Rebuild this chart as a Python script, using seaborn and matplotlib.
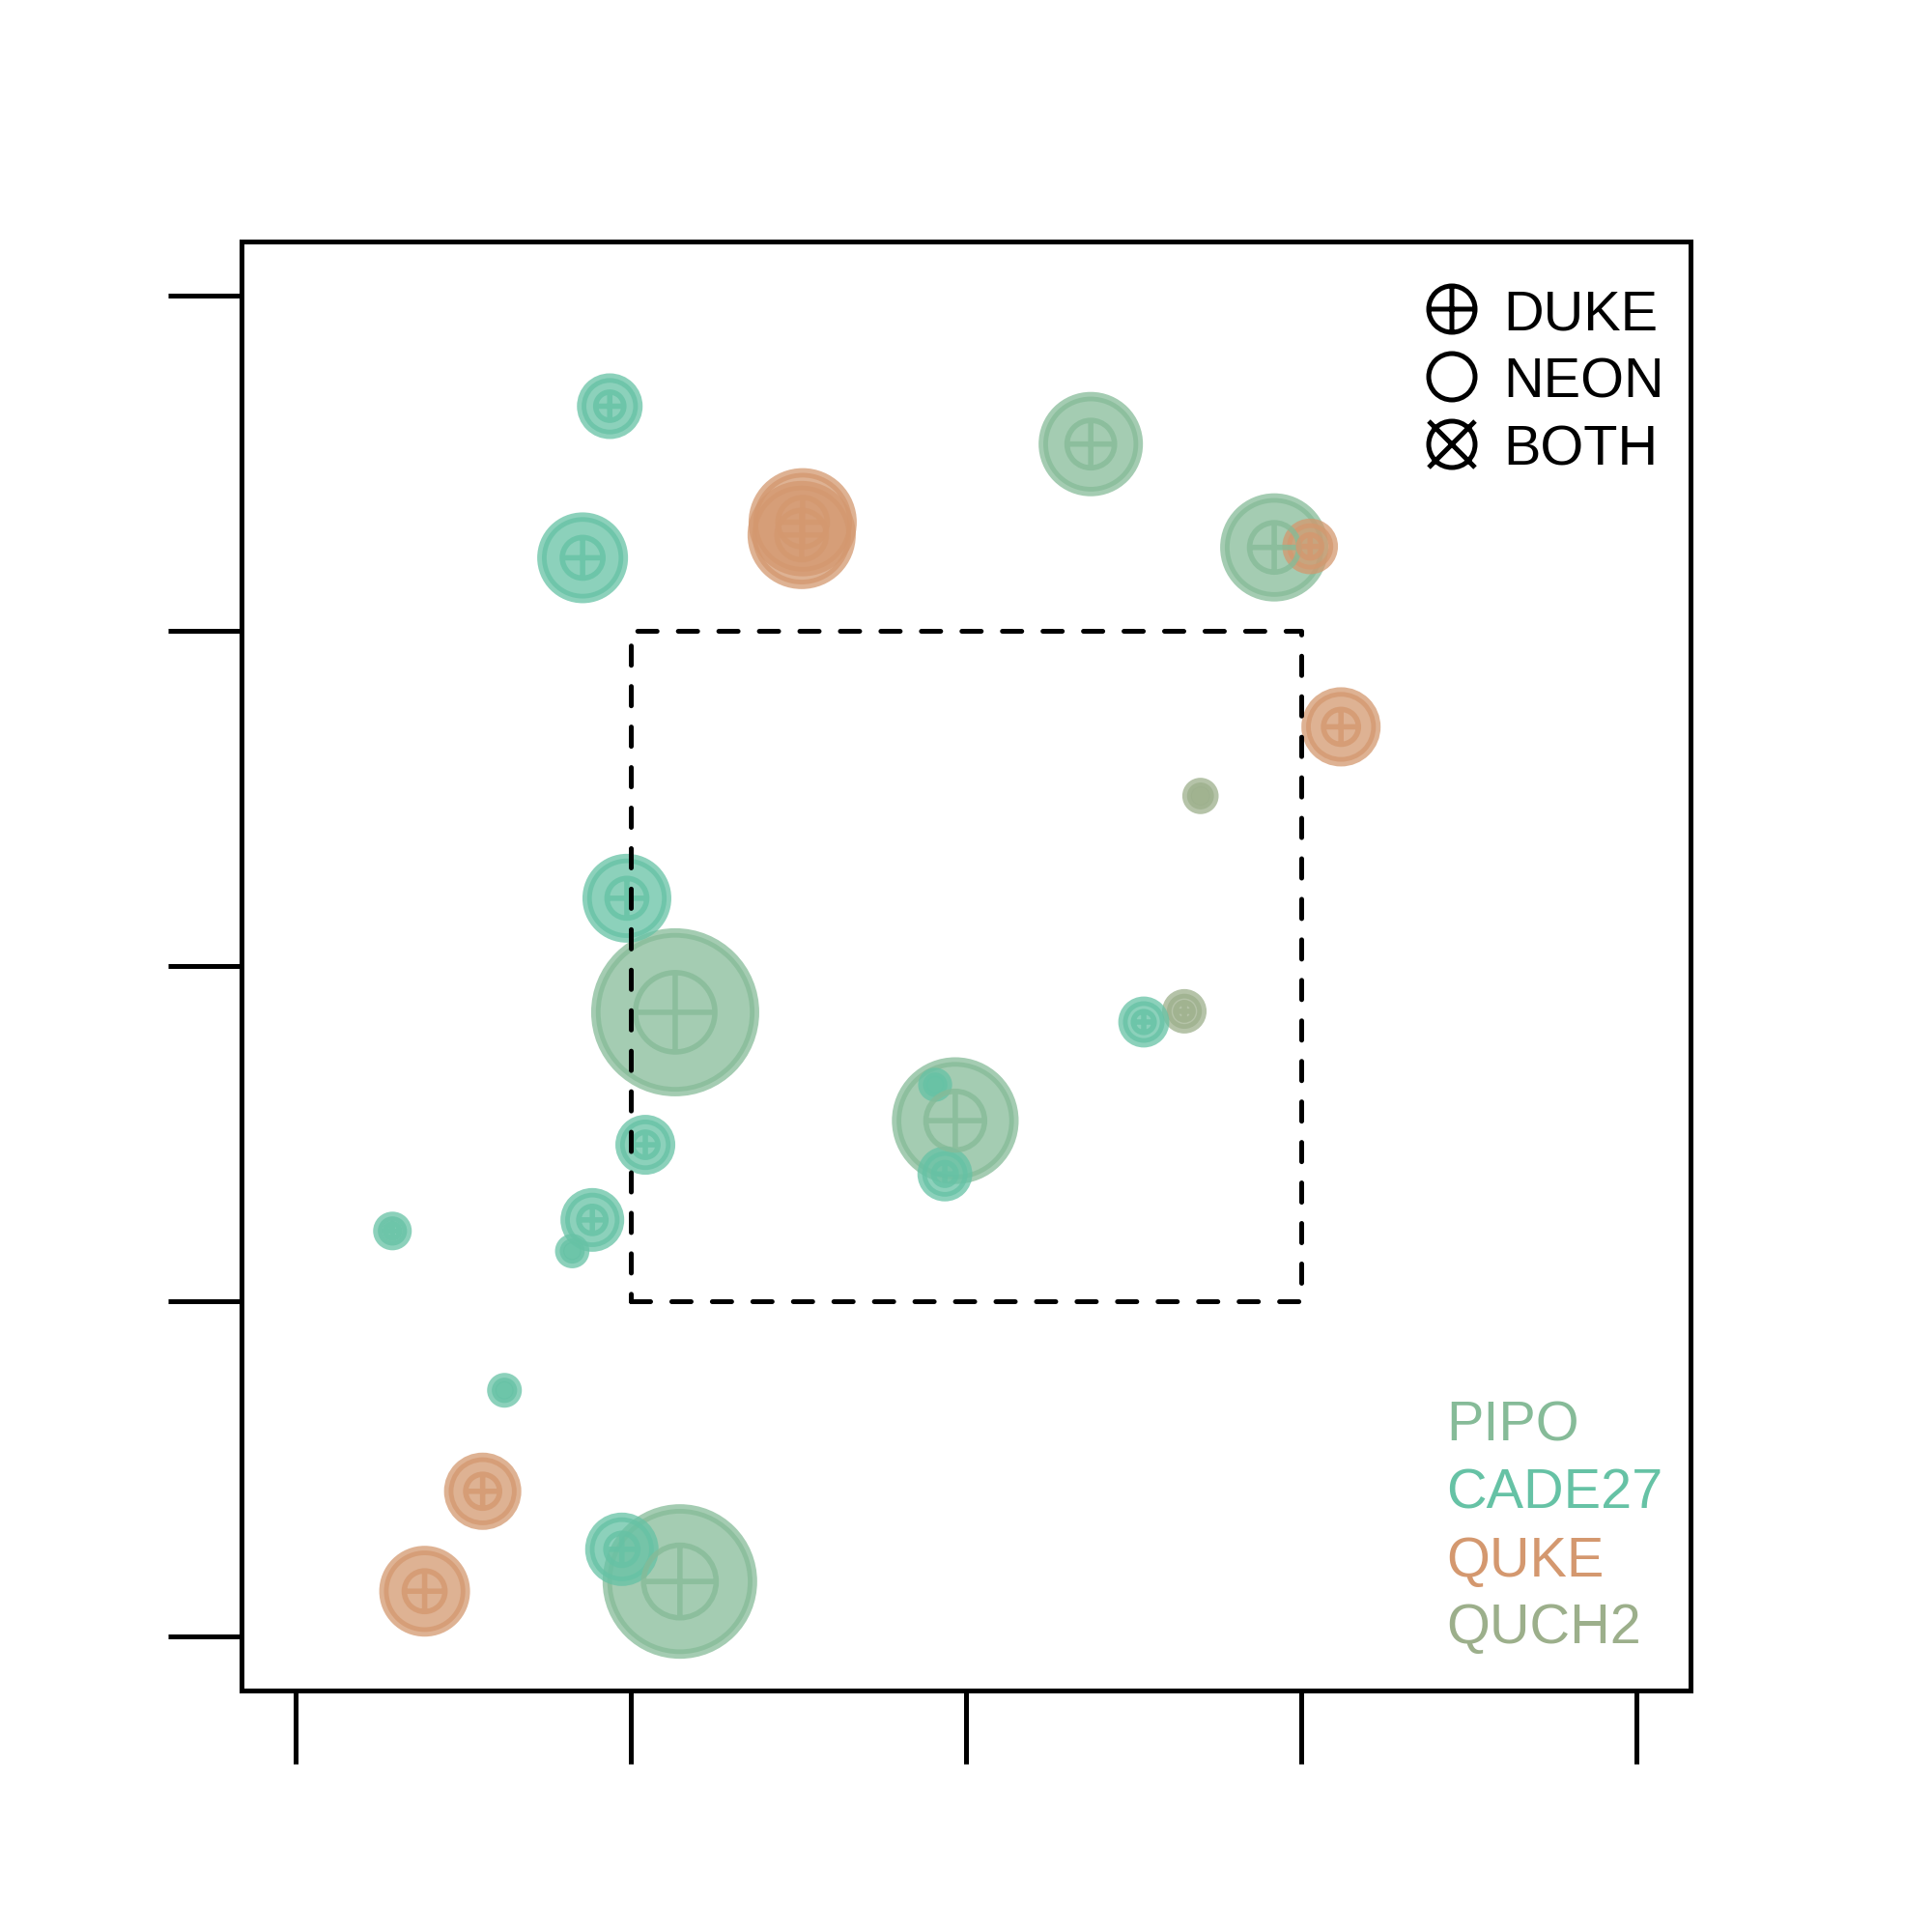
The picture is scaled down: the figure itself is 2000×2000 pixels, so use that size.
import numpy as np
import pandas as pd
import matplotlib
matplotlib.use("Agg")
import matplotlib.pyplot as plt
import seaborn as sns
from matplotlib.path import Path

# ---------------- data ----------------
species = ["PIPO", "PIPO", "PIPO", "PIPO", "PIPO",
           "QUCH2", "QUCH2",
           "CADE27", "CADE27", "CADE27", "CADE27", "CADE27", "CADE27",
           "CADE27", "CADE27", "CADE27", "CADE27", "CADE27", "CADE27",
           "QUKE", "QUKE", "QUKE", "QUKE", "QUKE", "QUKE"]
x_m = [11.33, 11.47, 19.68, 29.19, 23.72,
       26.99, 26.51,
       9.38, 8.57, 9.89, 25.30, 19.08, 19.37,
       10.44, 8.86, 8.26, 2.90, 6.24, 9.74,
       15.13, 15.10, 30.26, 31.18, 5.59, 3.86]
y_m = [18.62, 1.65, 15.39, 32.48, 35.56,
       25.07, 18.65,
       36.69, 32.17, 22.02, 18.33, 16.46, 13.80,
       14.67, 12.43, 11.50, 12.10, 7.35, 2.61,
       33.23, 32.85, 32.51, 27.13, 4.34, 1.36]
dbh = [43.5, 40.0, 32.8, 28.0, 27.0,
       9.4, 11.5,
       17.0, 23.5, 23.0, 13.2, 8.8, 14.2,
       15.5, 16.5, 8.9, 10.0, 9.0, 19.0,
       28.0, 28.0, 14.4, 20.5, 20.0, 23.5]

species_order = ["PIPO", "CADE27", "QUKE", "QUCH2"]
species_colors = ["#86bb98", "#66c2a5", "#d4986f", "#9caf8b"]
source_labels = ["DUKE", "NEON", "BOTH"]
axis_ticks = [0, 10, 20, 30, 40]
focal_bounds = [10, 30]

# ---------------- styling ----------------
sns.set_theme(style="white")
plt.rcParams["font.family"] = ["Liberation Sans", "DejaVu Sans"]
plt.rcParams["lines.scale_dashes"] = False

DPI = 100
PX_PER_PT = DPI / 72.0
RING_LW = 7.0          # pt
CROSS_LW = 4.0         # pt
PX_PER_CM = 2.0        # marker outer radius (px) per cm dbh
FRAME_LW = 3.6

palette = dict(zip(species_order, species_colors))

df = pd.DataFrame({"species": species, "x": x_m, "y": y_m, "dbh": dbh})
r_path = np.array(df["dbh"]) * PX_PER_CM - RING_LW * PX_PER_PT / 2
df["s_outer"] = (2 * r_path / PX_PER_PT) ** 2
df["s_inner"] = (r_path / PX_PER_PT) ** 2

# marker paths
circ = Path.unit_circle()
oplus = Path.make_compound_path(circ,
                                Path([[-1, 0], [1, 0]], [Path.MOVETO, Path.LINETO]),
                                Path([[0, -1], [0, 1]], [Path.MOVETO, Path.LINETO]))
otimes = Path.make_compound_path(circ,
                                 Path([[-1, -1], [1, 1]], [Path.MOVETO, Path.LINETO]),
                                 Path([[-1, 1], [1, -1]], [Path.MOVETO, Path.LINETO]))

fig = plt.figure(figsize=(20, 20), dpi=DPI)
ax = fig.add_axes([0.125, 0.125, 0.75, 0.75])

# outer discs
smin, smax = df["s_outer"].min(), df["s_outer"].max()
sns.scatterplot(data=df, x="x", y="y", hue="species", palette=palette,
                hue_order=species_order, size="s_outer", sizes=(smin, smax),
                size_norm=(smin, smax), marker="o", alpha=0.75,
                linewidth=RING_LW, legend=False, ax=ax)
for coll in ax.collections:
    coll.set_edgecolor(coll.get_facecolor())

# inner circled-plus symbols
n_before = len(ax.collections)
imin, imax = df["s_inner"].min(), df["s_inner"].max()
sns.scatterplot(data=df, x="x", y="y", hue="species", palette=palette,
                hue_order=species_order, size="s_inner", sizes=(imin, imax),
                size_norm=(imin, imax), marker=oplus, alpha=0.8,
                linewidth=CROSS_LW, legend=False, ax=ax)
for coll in ax.collections[n_before:]:
    coll.set_edgecolor(coll.get_facecolor())
    coll.set_facecolor("none")

# focal square
bx = [focal_bounds[0], focal_bounds[1], focal_bounds[1], focal_bounds[0], focal_bounds[0]]
by = [focal_bounds[0], focal_bounds[0], focal_bounds[1], focal_bounds[1], focal_bounds[0]]
ax.plot(bx, by, color="black", lw=3.6, linestyle=(0, (14.4, 15.8)),
        dash_capstyle="round", zorder=3)

# axes
ax.set_xlim(-1.6, 41.6)
ax.set_ylim(-1.6, 41.6)
ax.set_xticks(axis_ticks)
ax.set_yticks(axis_ticks)
ax.set_xticklabels([])
ax.set_yticklabels([])
ax.set_xlabel("")
ax.set_ylabel("")
ax.tick_params(axis="both", which="both", direction="out", length=55,
               width=FRAME_LW, color="black", bottom=True, left=True, top=False, right=False)
for sp in ax.spines.values():
    sp.set_visible(True)
    sp.set_color("black")
    sp.set_linewidth(FRAME_LW)
ax.grid(False)

FS = 41.5

def fx(px):
    return px / 2000.0

def fy(py):
    return 1 - py / 2000.0

# source legend (top right)
leg_sym_y = [320, 390, 460]
leg_base_y = [342, 412, 482]
for lab, sy, by_, mk in zip(source_labels, leg_sym_y, leg_base_y, [oplus, "o", otimes]):
    ax.scatter([fx(1503)], [fy(sy)], transform=fig.transFigure, marker=mk,
               s=(48 / PX_PER_PT) ** 2, facecolors="none", edgecolors="black",
               linewidths=3.6, clip_on=False, zorder=5)
    fig.text(fx(1556), fy(by_), lab, fontsize=FS, color="black", va="baseline", ha="left")

# species labels (bottom right)
sp_base_y = [1492, 1562, 1632, 1701]
for lab, col, by_ in zip(species_order, species_colors, sp_base_y):
    fig.text(fx(1497), fy(by_), lab, fontsize=FS, color=col, va="baseline", ha="left")

fig.savefig("out.png", dpi=DPI, facecolor="white")
